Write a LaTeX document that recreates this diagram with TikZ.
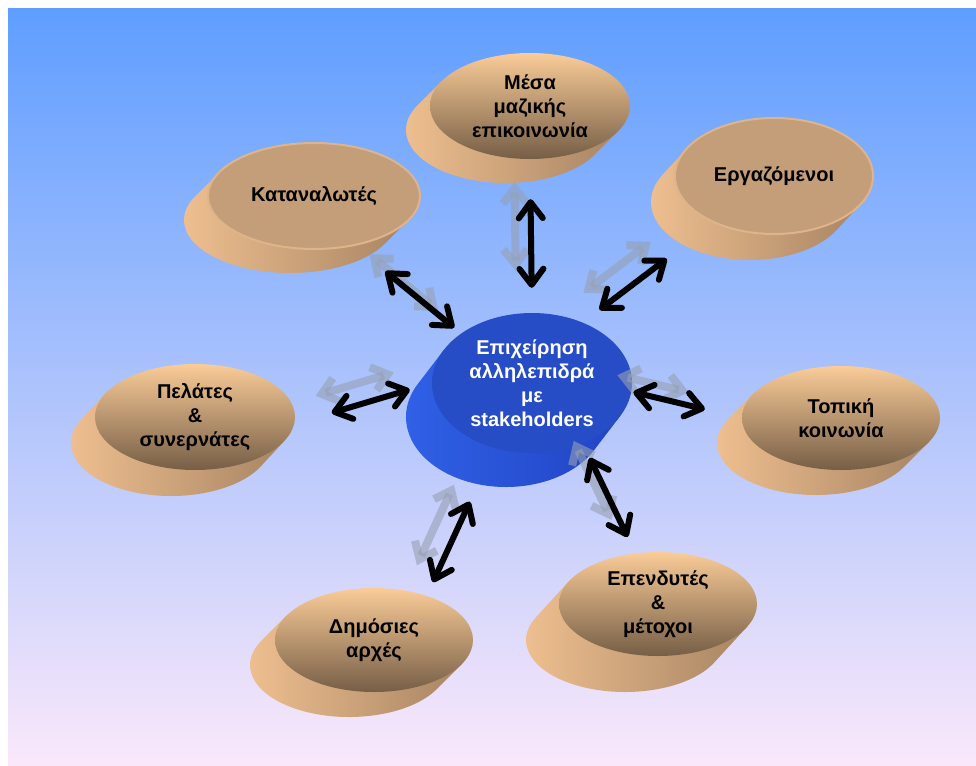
\documentclass[tikz,border=0pt]{standalone}
\usepackage{fontspec}
\setmainfont{Liberation Sans}
\usetikzlibrary{shapes.geometric,arrows.meta}

\definecolor{bgTop}{RGB}{95,158,255}
\definecolor{bgMid}{RGB}{148,196,248}
\definecolor{bgBot}{RGB}{250,232,250}
\definecolor{peachTop}{RGB}{250,204,152}
\definecolor{peachMid}{RGB}{210,168,126}
\definecolor{peachBot}{RGB}{118,94,70}
\definecolor{tanFace}{RGB}{196,158,120}
\definecolor{tanRim}{RGB}{222,180,138}
\definecolor{sideLight}{RGB}{242,194,146}
\definecolor{sideDark}{RGB}{168,133,100}
\definecolor{hubFace}{RGB}{38,76,198}
\definecolor{hubSideL}{RGB}{48,98,232}
\definecolor{hubSideR}{RGB}{34,68,196}
\definecolor{ghost}{RGB}{150,160,178}

\begin{document}
\begin{tikzpicture}[x=1pt,y=-1pt,
  face/.style={ellipse,inner sep=0pt,align=center,font=\fontsize{20}{24}\selectfont\bfseries},
  peach/.style={face,top color=peachTop,middle color=peachMid,bottom color=peachBot},
  flat/.style={face,fill=tanFace,draw=tanRim,line width=2pt},
  slab/.style={left color=sideLight,right color=sideDark},
  hubslab/.style={left color=hubSideL,right color=hubSideR},
  link/.style={line width=6pt,{Straight Barb[length=16pt,width=24pt,round]}-{Straight Barb[length=16pt,width=24pt,round]}},
  ghostlink/.style={line width=8pt,ghost,opacity=.6,{Straight Barb[length=15pt,width=24pt]}-{Straight Barb[length=15pt,width=24pt]},transform canvas={shift={(-16,-17)}}}]
\useasboundingbox (0,0) rectangle (976,765);

% Background
\shade[top color=bgTop,middle color=bgMid,bottom color=bgBot] (8,9) rectangle (976,765);

% Side walls of the discs
\foreach \cx/\cy/\rx/\ry/\dx/\dy/\sty in {530/106/100/53/-24/24/slab,
    314/196/106/53/-24/24/slab, 774/176/99/58/-24/26/slab,
    841/418/99/52/-25/25/slab, 195/417/100/53/-24/26/slab,
    374/640/99/52/-25/25/slab, 658/604/99/52/-33/36/slab,
    532/383/100/70/-26/34/hubslab} {
  \pgfmathsetmacro\ang{atan2(-\ry*\dx,\rx*\dy)}
  \pgfmathsetmacro\ax{\cx+\rx*cos(\ang)}
  \pgfmathsetmacro\ay{\cy+\ry*sin(\ang)}
  \pgfmathsetmacro\bx{\cx-\rx*cos(\ang)}
  \pgfmathsetmacro\by{\cy-\ry*sin(\ang)}
  \shade[\sty] (\ax,\ay) -- ++(\dx,\dy)
    arc[start angle=\ang,delta angle=180,x radius=\rx,y radius=\ry]
    -- (\bx,\by) -- cycle;
}

% Stakeholders
\node[peach,minimum width=200pt,minimum height=106pt] (media) at (530,106) {Μέσα\\μαζικής\\επικοινωνία};
\node[flat,minimum width=212pt,minimum height=106pt] (cons) at (314,196) {Καταναλωτές};
\node[flat,minimum width=198pt,minimum height=116pt] (work) at (774,176) {Εργαζόμενοι};
\node[peach,minimum width=198pt,minimum height=104pt] (local) at (841,418) {Τοπική\\κοινωνία};
\node[peach,minimum width=200pt,minimum height=106pt] (clients) at (195,417) {Πελάτες\\\&\\συνερνάτες};
\node[peach,minimum width=198pt,minimum height=104pt] (public) at (374,640) {Δημόσιες\\αρχές};
\node[peach,minimum width=198pt,minimum height=104pt] (inv) at (658,604) {Επενδυτές\\\&\\μέτοχοι};

% Company
\node[face,fill=hubFace,text=white,minimum width=200pt,minimum height=140pt] (hub) at (532,383) {Επιχείρηση\\αλληλεπιδρά\\με\\stakeholders};

% Interactions
\foreach \a/\b/\s/\t in {north/media.south/25pt/40pt, 145/cons.-51/9pt/40pt,
    50/work.218/21pt/59pt, -5/local.180/2pt/38pt, 180/clients.-4/23pt/39pt,
    240/public.40/59pt/15pt, -50/inv.114/16pt/18pt} {
  \draw[ghostlink,shorten <=\s,shorten >=\t] (hub.\a) -- (\b);
  \draw[link,shorten <=\s,shorten >=\t] (hub.\a) -- (\b);
}
\end{tikzpicture}
\end{document}
